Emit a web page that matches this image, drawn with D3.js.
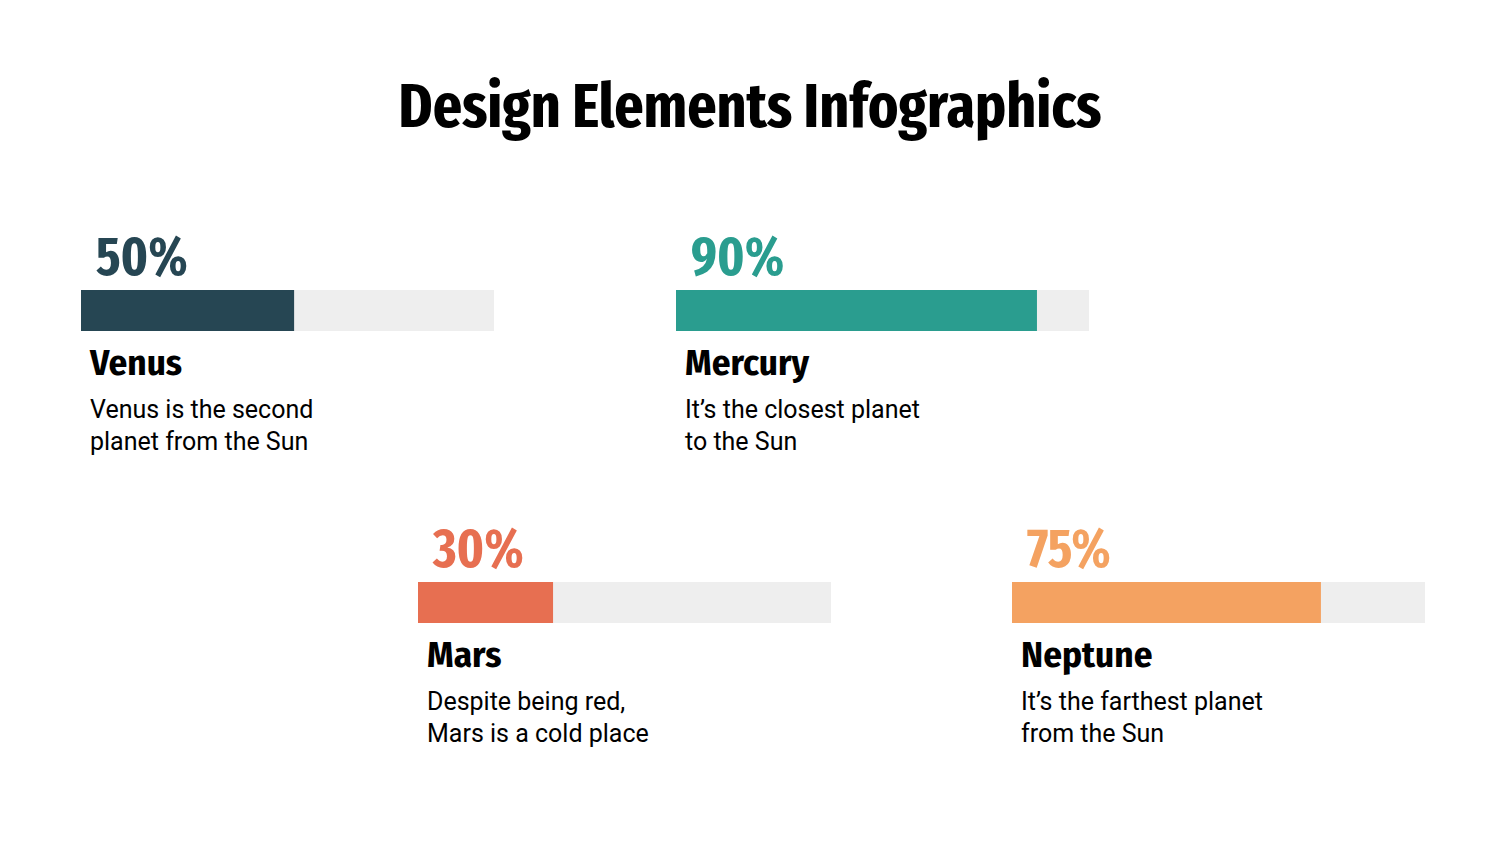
<!DOCTYPE html>
<html>
<head>
<meta charset="utf-8">
<script src="https://cdn.jsdelivr.net/npm/d3@7"></script>
<style>
  html, body { margin: 0; padding: 0; background: #ffffff; }
  svg { display: block; }
</style>
</head>
<body>
<svg id="chart" width="1500" height="844"></svg>
<script>
// ---- data ----
const planets = ["Venus", "Mercury", "Mars", "Neptune"];
const percentLabels = ["50%", "90%", "30%", "75%"];
const barValues = [51.6, 87.4, 32.7, 74.8];   // filled share as drawn
const descLine1 = ["Venus is the second", "It\u2019s the closest planet", "Despite being red,", "It\u2019s the farthest planet"];
const descLine2 = ["planet from the Sun", "to the Sun", "Mars is a cold place", "from the Sun"];
const colors = ["#264653", "#2a9d8f", "#e76f51", "#f4a261"];
const title = "Design Elements Infographics";

// ---- layout ----
const W = 1500, H = 844;
const barW = 413, barH = 41;
const slotX = [81, 676, 418, 1012];
const slotY = [290, 290, 582, 582];
const xcond = "'Fira Sans Extra Condensed', 'Roboto Condensed', 'Liberation Sans Narrow', 'DejaVu Sans Condensed', Roboto, sans-serif";
const cond = "'Fira Sans Condensed', 'Fira Sans Extra Condensed', 'Roboto Condensed', 'Liberation Sans Narrow', Roboto, sans-serif";

const svg = d3.select("#chart");
const x = d3.scaleLinear().domain([0, 100]).range([0, barW]);

svg.append("text")
  .attr("x", W / 2).attr("y", 127)
  .attr("text-anchor", "middle")
  .style("font-family", xcond)
  .style("font-weight", 700)
  .style("font-size", "62px")
  .attr("fill", "#000")
  .attr("textLength", 703).attr("lengthAdjust", "spacingAndGlyphs")
  .text(title);

const data = planets.map((p, i) => ({
  name: p, label: percentLabels[i], value: barValues[i],
  d1: descLine1[i], d2: descLine2[i], color: colors[i],
  x: slotX[i], y: slotY[i]
}));

const g = svg.selectAll("g.item").data(data).join("g")
  .attr("class", "item")
  .attr("transform", d => `translate(${d.x},${d.y})`);

g.append("rect")
  .attr("x", 0).attr("y", 0)
  .attr("width", x(100)).attr("height", barH)
  .attr("fill", "#eeeeee");

g.append("rect")
  .attr("x", 0).attr("y", 0)
  .attr("width", d => x(d.value)).attr("height", barH)
  .attr("fill", d => d.color);

g.append("text")
  .attr("x", 15).attr("y", -15)
  .style("font-family", xcond)
  .style("font-weight", 700)
  .style("font-size", "54px")
  .attr("fill", d => d.color)
  .text(d => d.label);

g.append("text")
  .attr("x", 9).attr("y", barH + 44)
  .style("font-family", cond)
  .style("font-weight", 700)
  .style("font-size", "37px")
  .attr("fill", "#000")
  .text(d => d.name);

g.append("text")
  .attr("x", 9).attr("y", barH + 87)
  .style("font-family", "Roboto, sans-serif")
  .style("font-size", "25px")
  .attr("fill", "#000")
  .text(d => d.d1);

g.append("text")
  .attr("x", 9).attr("y", barH + 119)
  .style("font-family", "Roboto, sans-serif")
  .style("font-size", "25px")
  .attr("fill", "#000")
  .text(d => d.d2);
</script>
</body>
</html>
